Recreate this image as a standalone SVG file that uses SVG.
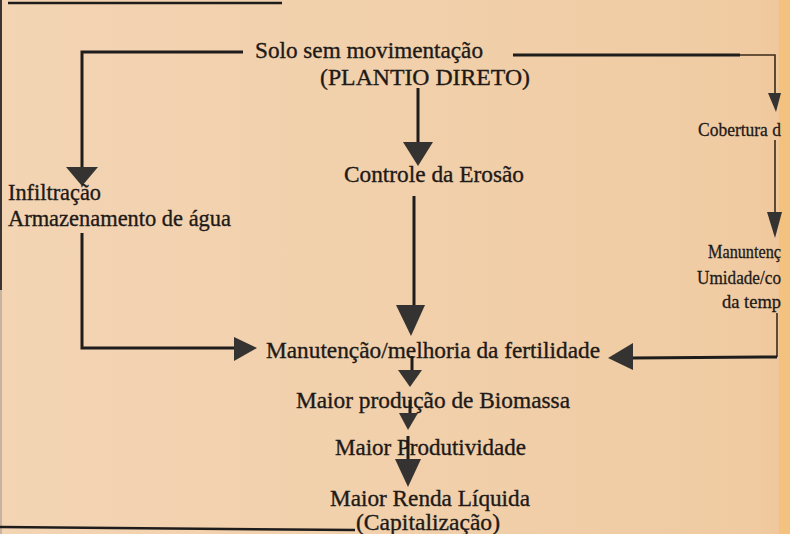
<svg xmlns="http://www.w3.org/2000/svg" width="790" height="534" viewBox="0 0 790 534">
<defs>
<style>
.t{font-family:"Liberation Serif","Times New Roman",serif;font-size:23px;fill:#1e1a18;stroke:#1e1a18;stroke-width:0.35}
.s{font-family:"Liberation Serif","Times New Roman",serif;font-size:19px;fill:#1e1a18;stroke:#1e1a18;stroke-width:0.3}
.ln{stroke:#1f1d1c;stroke-width:3;fill:none}
.lt{stroke:#3a2a1a;stroke-width:1.6;fill:none}
.ah{fill:#353331}
</style>
<linearGradient id="bg" x1="0" y1="0" x2="1" y2="0">
<stop offset="0" stop-color="#f3d4b3"/>
<stop offset="0.5" stop-color="#f1d0ab"/>
<stop offset="0.95" stop-color="#f0cba2"/>
<stop offset="1" stop-color="#f0c69a"/>
</linearGradient>
</defs>
<rect width="790" height="534" fill="url(#bg)"/>
<rect x="779" y="0" width="11" height="534" fill="#f4c27f"/>
<line x1="1" y1="0" x2="1" y2="290" stroke="#3a3530" stroke-width="2"/>
<line x1="1" y1="290" x2="1" y2="534" stroke="#b8a898" stroke-width="1.5"/>
<line x1="8" y1="3" x2="282" y2="3" stroke="#1f1d1c" stroke-width="2.5"/>
<line x1="0" y1="527" x2="355" y2="530" stroke="#1f1d1c" stroke-width="2.5"/>

<g id="connectors">
<polyline class="ln" points="243,52 82,52 82,168"/>
<polygon class="ah" points="66,167 98,167 82,186"/>
<polyline class="ln" points="82,233 82,348 236,348"/>
<polygon class="ah" points="234,337 257,348 234,361"/>
<line class="ln" x1="418" y1="88" x2="418" y2="143"/>
<polygon class="ah" points="403,142 433,142 418,166"/>
<line class="ln" x1="414" y1="196" x2="414" y2="307"/>
<polygon class="ah" points="396,305 425,305 411,336"/>
<line class="ln" x1="412" y1="356" x2="412" y2="372"/>
<polygon class="ah" points="398,370 422,370 410,387"/>
<line class="ln" x1="410" y1="400" x2="410" y2="415"/>
<polygon class="ah" points="399,413 418,413 408,430"/>
<line class="ln" x1="408" y1="436" x2="408" y2="462"/>
<polygon class="ah" points="395,459 421,459 408,487"/>
<polyline class="ln" points="513,55 740,55"/>
<polyline class="lt" points="740,55 775,55 775,94"/>
<polygon class="ah" points="768,93 781,93 776,112"/>
<line class="lt" x1="775" y1="140" x2="775" y2="213"/>
<polygon class="ah" points="767,212 782,212 775,238"/>
<polyline class="lt" points="777,313 777,357"/>
<polyline class="ln" points="777,357 632,358"/>
<polygon class="ah" points="633,343 608,358 633,370"/>
</g>

<g id="solo"><text class="t" x="255" y="58" textLength="228" lengthAdjust="spacingAndGlyphs">Solo sem movimentação</text>
<text class="t" x="320" y="85" textLength="210" lengthAdjust="spacingAndGlyphs">(PLANTIO DIRETO)</text></g>
<g id="infiltracao"><text class="t" x="8" y="200" textLength="93" lengthAdjust="spacingAndGlyphs">Infiltração</text>
<text class="t" x="8" y="226" textLength="223" lengthAdjust="spacingAndGlyphs">Armazenamento de água</text></g>
<g id="controle"><text class="t" x="344" y="182" textLength="180" lengthAdjust="spacingAndGlyphs">Controle da Erosão</text></g>
<g id="cobertura"><text class="s" x="698" y="136" textLength="83" lengthAdjust="spacingAndGlyphs">Cobertura d</text></g>
<g id="manutencao-umidade"><text class="s" x="708" y="258" textLength="73" lengthAdjust="spacingAndGlyphs">Manuntenç</text>
<text class="s" x="697" y="284" textLength="84" lengthAdjust="spacingAndGlyphs">Umidade/co</text>
<text class="s" x="722" y="308" textLength="59" lengthAdjust="spacingAndGlyphs">da temp</text></g>
<g id="fertilidade"><text class="t" x="266" y="358" textLength="334" lengthAdjust="spacingAndGlyphs">Manutenção/melhoria da fertilidade</text></g>
<g id="biomassa"><text class="t" x="296" y="408" textLength="274" lengthAdjust="spacingAndGlyphs">Maior produção de Biomassa</text></g>
<g id="produtividade"><text class="t" x="335" y="455" textLength="191" lengthAdjust="spacingAndGlyphs">Maior Produtividade</text></g>
<g id="renda"><text class="t" x="330" y="506" textLength="200" lengthAdjust="spacingAndGlyphs">Maior Renda Líquida</text>
<text class="t" x="356" y="530" textLength="144" lengthAdjust="spacingAndGlyphs">(Capitalização)</text></g>
</svg>
